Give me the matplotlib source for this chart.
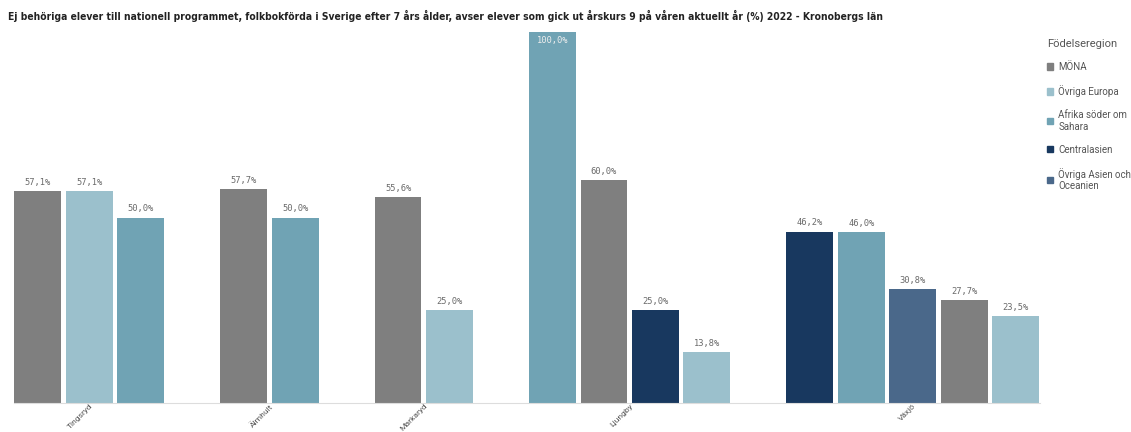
import matplotlib
matplotlib.use("Agg")
import matplotlib.pyplot as plt
from matplotlib.patches import Patch

# data
kommuner = ["Tingsryd", "Älmhult", "Markaryd", "Ljungby", "Växjö"]
grupp_regioner = [
    ["MÖNA", "Övriga Europa", "Afrika söder om Sahara"],
    ["MÖNA", "Afrika söder om Sahara"],
    ["MÖNA", "Övriga Europa"],
    ["Afrika söder om Sahara", "MÖNA", "Centralasien", "Övriga Europa"],
    ["Centralasien", "Afrika söder om Sahara", "Övriga Asien och Oceanien", "MÖNA", "Övriga Europa"],
]
grupp_varden = [
    [57.1, 57.1, 50.0],
    [57.7, 50.0],
    [55.6, 25.0],
    [100.0, 60.0, 25.0, 13.8],
    [46.2, 46.0, 30.8, 27.7, 23.5],
]
legend_regioner = ["MÖNA", "Övriga Europa", "Afrika söder om Sahara",
                   "Centralasien", "Övriga Asien och Oceanien"]
legend_text = ["MÖNA", "Övriga Europa", "Afrika söder om\nSahara",
               "Centralasien", "Övriga Asien och\nOceanien"]

farger = {
    "MÖNA": "#7f7f7f",
    "Övriga Europa": "#9bc0cc",
    "Afrika söder om Sahara": "#70a3b4",
    "Centralasien": "#18385f",
    "Övriga Asien och Oceanien": "#4a688a",
}

title = ("Ej behöriga elever till nationell programmet, folkbokförda i Sverige efter 7 års ålder, "
         "avser elever som gick ut årskurs 9 på våren aktuellt år (%) 2022 - Kronobergs län")

fig = plt.figure(figsize=(11.31, 4.32), dpi=100)
ax = fig.add_axes([14 / 1131, 29 / 432, 1026 / 1131, 371 / 432])

slot = 0
centers = []
for regs, vals in zip(grupp_regioner, grupp_varden):
    start = slot
    for r, v in zip(regs, vals):
        ax.bar(slot, v, width=0.91, color=farger[r])
        lab = f"{v:.1f}%".replace(".", ",")
        if v >= 99:
            ax.annotate(lab, (slot, v), xytext=(0, -3), textcoords="offset points",
                        ha="center", va="top", fontsize=6.3, color="#eeeeee",
                        family="DejaVu Sans Mono")
        else:
            ax.annotate(lab, (slot, v), xytext=(0, 3), textcoords="offset points",
                        ha="center", va="bottom", fontsize=6.3, color="#6a6a6a",
                        family="DejaVu Sans Mono")
        slot += 1
    centers.append((start + slot - 1) / 2)
    slot += 1

ax.set_xlim(-0.46, 19.47)
ax.set_ylim(0, 100)
ax.set_yticks([])
ax.set_xticks(centers)
ax.set_xticklabels(kommuner, rotation=45, ha="right", va="top",
                   rotation_mode="anchor", fontsize=6.1, color="#555555",
                   family="Roboto")
ax.tick_params(axis="x", length=0, pad=0)
for s in ["top", "right", "left"]:
    ax.spines[s].set_visible(False)
ax.spines["bottom"].set_color("#dddddd")

tt = fig.text(8 / 1131, 1 - 16 / 432, title, fontsize=9.5, fontweight="bold",
              family=["Liberation Sans Narrow", "DejaVu Sans"], fontstretch="condensed",
              va="center", ha="left", color="#222222")
# shrink the title until it is as wide as in the reference (~880 px)
r = fig.canvas.get_renderer()
w = tt.get_window_extent(r).width
if w > 880:
    tt.set_fontsize(9.5 * 880 / w)

handles = [Patch(color=farger[r]) for r in legend_regioner]
leg = fig.legend(handles, legend_text, loc="upper left",
                 bbox_to_anchor=(1038 / 1131, 1 - 30 / 432), frameon=False,
                 title="Födelseregion",
                 prop={"family": "Roboto", "size": 7},
                 title_fontproperties={"family": "Roboto", "size": 8},
                 handlelength=0.6, handleheight=0.6, handletextpad=0.6,
                 labelspacing=1.35)
leg._legend_box.align = "left"
leg.get_title().set_color("#555555")
for t in leg.get_texts():
    t.set_color("#555555")

plt.savefig("out.png", dpi=100)
